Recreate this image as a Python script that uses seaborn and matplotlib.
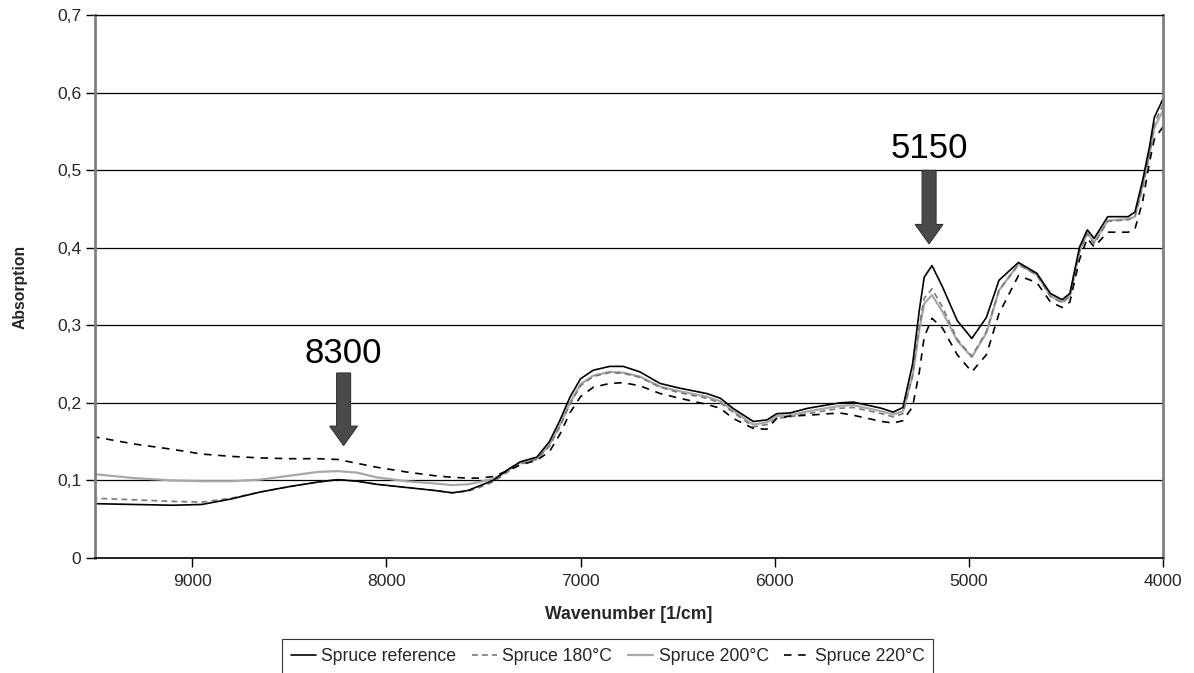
import matplotlib
matplotlib.use("Agg")
import matplotlib.pyplot as plt
import matplotlib.ticker as mticker
import seaborn as sns
import pandas as pd

# ---- data ----
wavenumber = [9500, 9300, 9100, 8950, 8800, 8650, 8500, 8350, 8250, 8150, 8050, 7900, 7750, 7660,
              7580, 7520, 7450, 7380, 7310, 7225, 7160, 7105, 7055, 7000, 6935, 6850, 6780, 6695,
              6590, 6490, 6350, 6280, 6215, 6110, 6040, 5990, 5920, 5830, 5665, 5595, 5450, 5390,
              5340, 5290, 5255, 5230, 5190, 5135, 5060, 4985, 4910, 4845, 4745, 4650, 4580, 4520,
              4480, 4430, 4390, 4355, 4285, 4180, 4145, 4105, 4070, 4045, 4000]

spruce_reference = [0.070, 0.069, 0.068, 0.069, 0.076, 0.085, 0.092, 0.098, 0.101, 0.099, 0.095, 0.091,
                    0.087, 0.084, 0.087, 0.093, 0.100, 0.113, 0.124, 0.130, 0.150, 0.178, 0.207, 0.231,
                    0.242, 0.247, 0.247, 0.240, 0.225, 0.219, 0.212, 0.206, 0.193, 0.176, 0.178, 0.186,
                    0.187, 0.193, 0.200, 0.201, 0.193, 0.188, 0.194, 0.250, 0.320, 0.362, 0.377, 0.349,
                    0.306, 0.283, 0.310, 0.358, 0.381, 0.367, 0.341, 0.333, 0.341, 0.401, 0.423, 0.412,
                    0.440, 0.440, 0.446, 0.487, 0.530, 0.568, 0.592]

spruce_180 = [0.077, 0.075, 0.073, 0.072, 0.077, 0.085, 0.092, 0.098, 0.101, 0.099, 0.095, 0.091,
              0.087, 0.084, 0.086, 0.091, 0.098, 0.110, 0.121, 0.127, 0.144, 0.170, 0.198, 0.222,
              0.234, 0.239, 0.238, 0.233, 0.220, 0.213, 0.206, 0.200, 0.188, 0.169, 0.172, 0.180,
              0.182, 0.186, 0.193, 0.194, 0.186, 0.182, 0.186, 0.235, 0.300, 0.335, 0.347, 0.323,
              0.282, 0.260, 0.292, 0.345, 0.378, 0.365, 0.337, 0.329, 0.337, 0.395, 0.418, 0.405,
              0.434, 0.436, 0.440, 0.478, 0.520, 0.560, 0.585]

spruce_200 = [0.108, 0.103, 0.100, 0.099, 0.099, 0.101, 0.106, 0.111, 0.112, 0.110, 0.104, 0.099,
              0.096, 0.094, 0.095, 0.098, 0.102, 0.112, 0.123, 0.128, 0.146, 0.172, 0.200, 0.224,
              0.235, 0.240, 0.239, 0.234, 0.221, 0.215, 0.208, 0.202, 0.190, 0.172, 0.175, 0.183,
              0.184, 0.189, 0.196, 0.197, 0.189, 0.185, 0.189, 0.235, 0.295, 0.328, 0.339, 0.317,
              0.280, 0.259, 0.290, 0.345, 0.379, 0.365, 0.338, 0.330, 0.338, 0.396, 0.419, 0.407,
              0.435, 0.437, 0.440, 0.480, 0.520, 0.555, 0.577]

spruce_220 = [0.156, 0.147, 0.140, 0.134, 0.131, 0.129, 0.128, 0.128, 0.127, 0.122, 0.117, 0.111,
              0.106, 0.104, 0.103, 0.103, 0.105, 0.112, 0.120, 0.126, 0.137, 0.160, 0.187, 0.208,
              0.220, 0.225, 0.226, 0.222, 0.212, 0.206, 0.198, 0.193, 0.180, 0.167, 0.166, 0.180,
              0.183, 0.184, 0.187, 0.184, 0.176, 0.174, 0.177, 0.195, 0.240, 0.285, 0.309, 0.296,
              0.262, 0.240, 0.262, 0.315, 0.364, 0.355, 0.330, 0.323, 0.330, 0.385, 0.412, 0.401,
              0.420, 0.420, 0.424, 0.460, 0.510, 0.540, 0.556]

series_names = ["Spruce reference", "Spruce 180°C", "Spruce 200°C", "Spruce 220°C"]
x_ticks = [9000, 8000, 7000, 6000, 5000, 4000]
y_ticks = [0, 0.1, 0.2, 0.3, 0.4, 0.5, 0.6, 0.7]
annotations = [("8300", 8220), ("5150", 5205)]

# ---- figure ----
sns.set_theme(style="white")
plt.rcParams["font.family"] = ["Liberation Sans", "DejaVu Sans"]

fig = plt.figure(figsize=(11.94, 6.73), dpi=100)
ax = fig.add_axes([0.0796, 0.1709, 0.8945, 0.8068])

df = pd.DataFrame({"Wavenumber": wavenumber,
                   series_names[0]: spruce_reference,
                   series_names[1]: spruce_180,
                   series_names[2]: spruce_200,
                   series_names[3]: spruce_220})

styles = {
    series_names[0]: dict(color="black", lw=1.2, ls="-"),
    series_names[1]: dict(color="#7a7a7a", lw=1.2, ls=(0, (3.5, 2.5))),
    series_names[2]: dict(color="#a8a8a8", lw=1.6, ls="-"),
    series_names[3]: dict(color="black", lw=1.2, ls=(0, (4.5, 4))),
}
draw_order = [series_names[2], series_names[1], series_names[3], series_names[0]]
for name in draw_order:
    st = styles[name]
    sns.lineplot(data=df, x="Wavenumber", y=name, ax=ax, color=st["color"],
                 linewidth=st["lw"], linestyle=st["ls"], label=name, legend=False)

ax.set_xlim(9500, 4000)
ax.set_ylim(0, 0.7)
ax.set_xticks(x_ticks)
ax.set_xticklabels([str(t) for t in x_ticks])
ax.set_yticks(y_ticks)
ax.yaxis.set_major_formatter(mticker.FuncFormatter(
    lambda v, p: "0" if abs(v) < 1e-9 else f"{v:.1f}".replace(".", ",")))
ax.grid(axis="y", color="black", linewidth=0.9)
ax.grid(axis="x", visible=False)
ax.tick_params(axis="both", which="major", direction="out", length=6.5, width=1,
               color="black", labelsize=12.6, bottom=True, left=True)
ax.tick_params(axis="x", pad=5)
ax.tick_params(axis="y", pad=3.5)

for side in ["left", "right"]:
    ax.spines[side].set_color("#808080")
    ax.spines[side].set_linewidth(2.0)
ax.spines["top"].set_color("black")
ax.spines["top"].set_linewidth(0.9)
ax.spines["bottom"].set_color("black")
ax.spines["bottom"].set_linewidth(1.2)

ax.set_xlabel("Wavenumber [1/cm]", fontsize=12.7, fontweight="bold", labelpad=12)
ax.set_ylabel("Absorption", fontsize=11.3, fontweight="bold", labelpad=21)

# arrows and labels
arrow_specs = [(0.2385, 0.145, 0.264), (0.4997, 0.405, 0.528)]
for (txt, wx), (ytop, ytip, ytxt) in zip(annotations, arrow_specs):
    ax.arrow(wx, ytop, 0, ytip - ytop, width=72, head_width=143, head_length=0.025,
             length_includes_head=True, facecolor="#4a4a4a", edgecolor="#333333",
             linewidth=0.8, zorder=5)
    ax.text(wx, ytxt, txt, fontsize=25, ha="center", va="center", color="black", zorder=6)

# legend
handles, labels = ax.get_legend_handles_labels()
order = [labels.index(n) for n in series_names]
leg = fig.legend([handles[i] for i in order], [labels[i] for i in order],
                 loc="upper center", bbox_to_anchor=(0.509, 1 - 639 / 673), ncol=4, frameon=True,
                 fancybox=False, edgecolor="black", fontsize=12.7, handlelength=1.4,
                 handletextpad=0.32, columnspacing=0.9, borderpad=0.5, borderaxespad=0)
leg.get_frame().set_linewidth(0.8)

fig.savefig("out.png", dpi=100)
